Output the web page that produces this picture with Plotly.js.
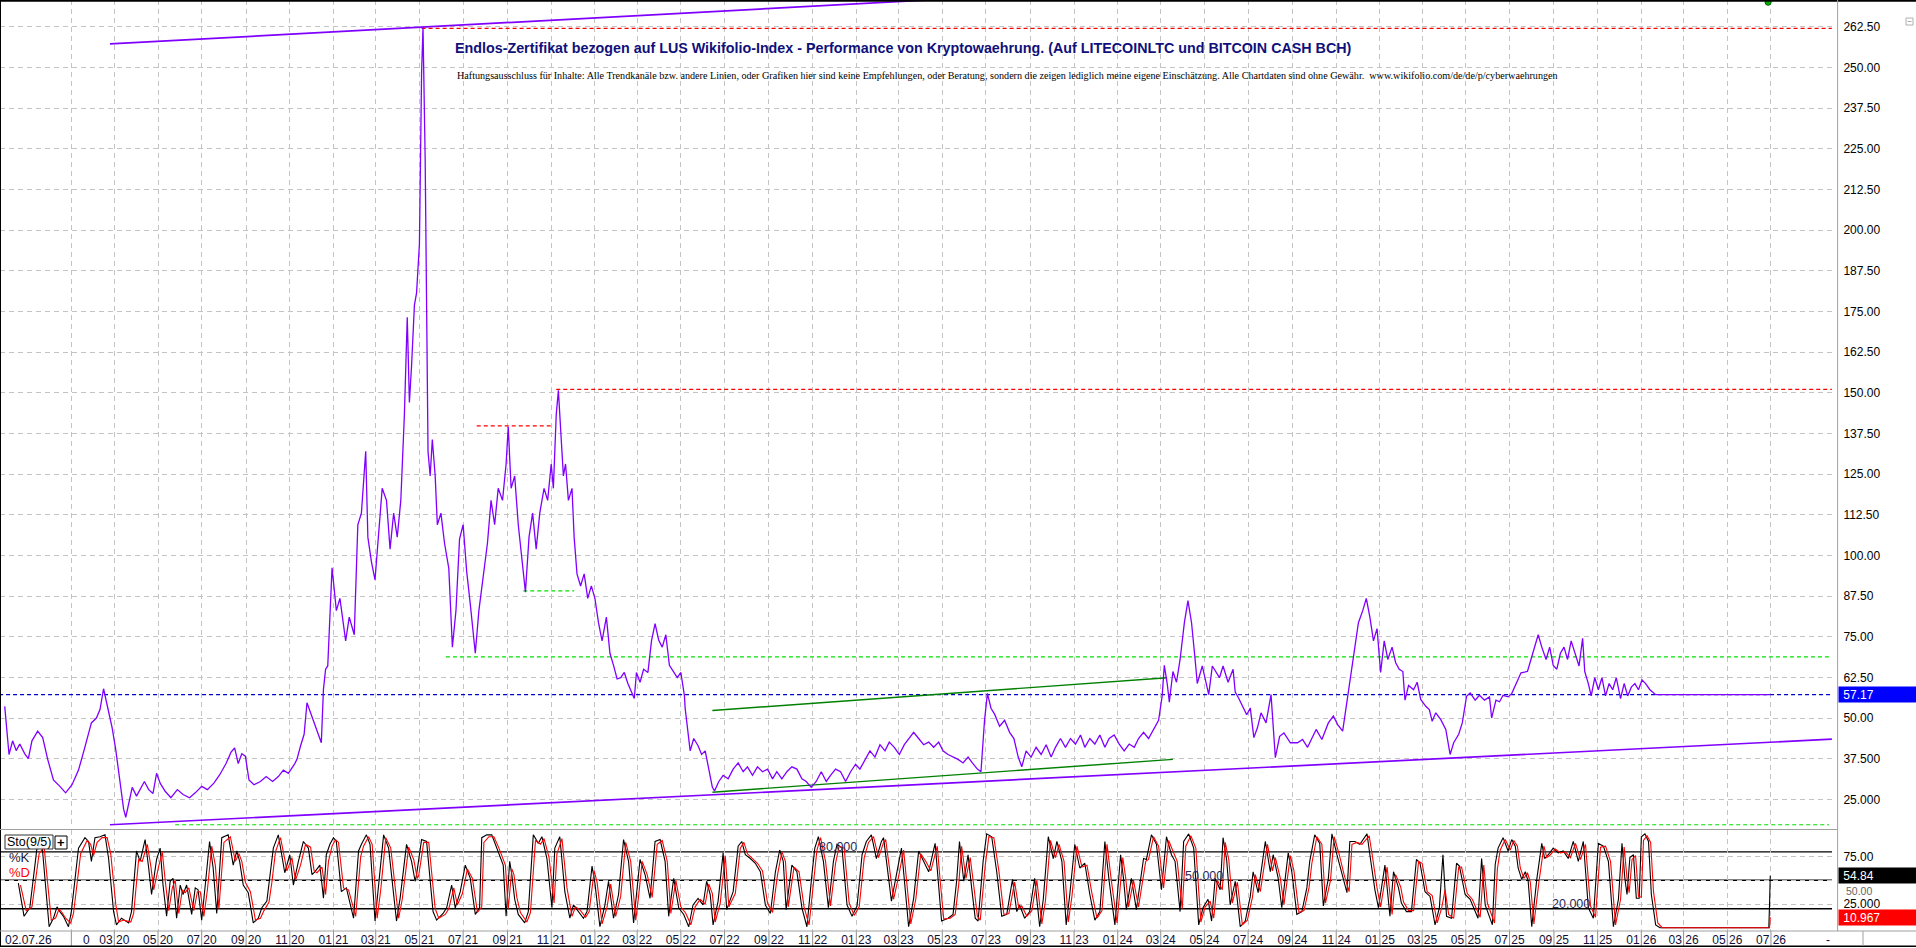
<!DOCTYPE html>
<html>
<head>
<meta charset="utf-8">
<script src="https://cdn.plot.ly/plotly-3.0.1.min.js"></script>
<style>html,body{margin:0;padding:0;background:#fff;}#chart{width:1916px;height:948px;}</style>
</head>
<body>
<div id="chart"></div>
<script>
// ---- price series (days since 2020-03-01, index value) ----
const priceDays = [
-153,-147,-142,-137,-132,-125,-120,-115,-107,-100,
-93,-85,-76,-68,-59,-50,-42,-32,-25,-20,
-15,-11,-8,-3,2,8,13,16,20,25,
31,42,48,54,59,64,71,79,88,96,
105,113,122,130,139,147,156,163,168,173,
178,183,188,195,204,212,221,229,236,243,
252,255,260,265,269,274,279,284,289,292,
295,298,
304,310,315,323,328,335,340,345,351,354,
359,364,369,374,380,385,390,395,400,405,
409,412,415,419,422,426,429,431,434,436,
438,441,444,448,451,456,461,467,472,477,
482,487,492,497,504,
509,516,521,526,531,536,542,547,550,554,
559,564,569,574,579,584,589,594,600,605,
610,613,617,620,623,627,630,634,639,642,
646,651,656,661,666,671,676,681,687,692,
697,702,707,712,717,722,726,729,734,739,
745,750,755,760,765,770,775,780,786,791,
796,797,801,804,809,815,820,825,830,835,
838,
844,850,857,864,871,878,884,891,898,905,
912,919,925,932,939,946,953,960,966,973,
980,987,994,1000,1007,1014,1021,1028,1035,1041,
1048,1055,1062,1069,1076,1082,1089,1096,1103,1110,
1116,1123,1130,1137,1144,1151,1157,1164,1171,1178,
1185,1192,1198,1205,1210,1215,1219,1224,1229,1236,
1243,1250,1256,1262,1267,1273,1280,1287,1294,1301,
1308,1314,1321,1328,1335,1342,1349,1355,1362,1369,
1376,1383,1389,1396,1403,1410,1417,1424,1430,1437,
1444,1451,1458,1463,1466,1470,1473,1478,1483,1488,
1494,1499,1504,1509,1512,1519,1524,1528,1533,1538,
1543,1548,1555,1562,1565,1570,1575,1581,1586,1591,
1596,1601,1608,1615,1621,1627,1633,1642,1652,1659,
1666,1678,1686,1695,1702,1708,1715,1722,1727,1732,
1737,1743,1748,1753,1758,1763,1768,1773,1778,1784,
1789,1794,1799,1802,1807,1814,1819,1824,1831,1836,
1840,1845,1852,1859,1862,1865,1870,1877,1882,1888,
1893,1900,1906,1913,1920,1923,1929,1934,1939,1946,
1951,1956,1964,1973,1978,1983,1988,1993,1999,2004,
2009,2014,2019,2024,2029,2034,2039,2045,2050,2053,
2058,2062,2067,2072,2077,2082,2087,2092,2097,2103,
2108,2113,2118,2123,2128,2133,2138,2144,2152,2312
];
const priceValues = [
53.6,38.8,43,40,42,39,37.5,43,46,44,
37.3,31,29,27,29.5,34,40.3,48.5,50,52.6,
59,55,51,47,40.3,31,22,19.5,24,28.7,
26,30.5,28,26.8,33,30,27.5,25.5,28,26.5,
25.5,27,29,28,30,32.5,36,39.5,40.8,36,
39,38.3,31,29.5,30.5,32,30.5,32,34,33,
36,37.3,41.4,45,54.7,51.6,48,45,42.4,58.8,
65,66,
96.2,83,86.8,73.7,81,75.6,109.4,113,132,105.6,
98,92.5,105.6,120.6,116.9,101.9,113,105.6,116.9,143.2,
173.2,147,158.2,176.9,180.7,195.7,248.2,262.3,222,176.9,
131.9,124.4,135.6,124.4,109.4,113,103.8,96,71.8,83,
105,109.4,95,85,69.9,
83,94.3,103.8,116.9,109.4,120.6,116.9,128.1,139.5,120.6,
124.4,109.4,98,88.7,105.6,113,101.9,113,120.6,116.9,
128.1,120.6,143.2,150.7,139.4,124.4,128.1,116.9,120.6,105.6,
94.3,90.6,94.3,86.8,90.6,86.8,79.3,73.7,81,69.9,
66.2,62,62.4,64,60.6,58,56,64,61,65,
64,73.7,79,74,71.8,75.6,66.2,64.5,62.4,64,
56.8,53,45.6,39.9,43.7,41.5,38.8,39.9,34.3,28.7,
27.6,
30.5,32.4,31.3,34.3,36.2,33.5,35,32.4,35,33.5,
34.3,31.3,33.5,31.3,33.5,35,34.3,31.3,30.5,28.7,
30.5,33.5,30.5,32.4,34.3,33.5,30.5,33.5,35.8,34.3,
37.3,39.9,38,41.8,39.9,42.6,41,38.8,41.8,43.7,
45.6,43.7,41.8,42.6,41,42.6,39.9,38.8,38,37.3,
36.2,38,36.2,34.3,33.5,49.3,57.6,53,51.2,47.5,
49.3,45.6,43.7,38,35,39.9,38,41,38.8,41.8,
38,41,43.7,41,43.7,42,44.8,41,43.7,42,
44.8,41,43.7,44.8,42,39.9,42,41,43.7,45.6,
43.7,46.3,49.3,56.8,66.2,60.6,54.9,64.3,61,68,
79.3,86.1,79.3,68,60.6,66,60.6,57.2,66,64,
62.4,66,61,65,58,56,53.6,51,53.1,44,
47,51.6,48.5,57.2,37.8,44.4,45.4,42.4,42.4,43.4,
41,46.5,43.4,48.5,50.6,48,46,56.7,62.9,72,
79.3,83,86.8,81,73.7,77.5,64,73.7,68,71.8,
67,65,64.3,55.5,60,58.7,61,55.7,53.6,52.6,
49,51.6,49.5,46.5,42.4,38.8,42.4,45,48.5,56.7,
57.7,55.5,57,55.5,56.5,50,55.5,55,57,56.5,
57.5,59.8,63.9,64.3,68,71.8,75.6,71.8,68,71.8,
66.2,65,69.9,71.8,68,73.7,69.9,66,74.5,64.3,
60.6,56.8,62.4,58.7,62.4,56.8,60.6,58.7,62.4,56,
60.6,56.8,59.5,60.6,58.7,61.7,60.6,58.7,57.17,57.17
];
const lastPrice = 57.17;

// ---- Stochastic (9/5): %K and %D ----
const stochKDays = [
-134,-126,-118,-108,-101,-91,-85,-80,-76,-71,
-64,-60,-50,-41,-36,-32,-27,-20,-13,-8,
-1,3,10,15,20,24,31,36,43,48,
52,59,64,68,73,78,82,87,92,96,
101,108,113,117,122,127,133,138,143,150,
159,166,171,175,180,187,194,201,206,213,
217,222,229,234,238,245,250,257,264,271,
276,280,287,292,296,301,306,310,317,324,
334,341,345,352,357,364,369,376,383,394,
399,408,415,420,422,429,436,445,450,459,
464,471,476,483,490,497,504,510,
513,520,527,534,543,547,552,555,559,564,
573,578,585,592,597,604,611,615,622,629,
636,641,648,655,660,667,671,678,685,690,
697,704,711,718,725,729,734,741,748,755,
762,769,774,781,788,795,802,808,815,822,
827,832,836,843,850,855,864,871,876,881,
888,895,902,909,916,923,929,934,938,946,
953,960,967,974,978,983,990,997,1004,1009,
1016,1023,1030,1037,1044,1050,1057,1064,1071,1074,
1081,1085,1092,1099,1109,1116,1123,1130,1137,1146,
1150,1155,1164,1171,1176,1180,
1186,1192,1197,1202,1206,1213,1218,1225,1232,1239,
1246,1254,1260,1264,1271,1278,1285,1292,1297,1304,
1311,1316,1323,1329,1334,1341,1348,1355,1362,1369,
1376,1383,1389,1397,1405,1409,1413,1420,1427,1437,
1441,1448,1455,1462,1469,1476,1481,1488,1493,1500,
1507,1514,1520,1527,1532,1537,1544,1548,1553,1558,
1565,1572,1579,1586,1590,1597,1607,1614,1618,1625,
1630,1639,1644,1651,1658,1665,1669,1676,1683,1688,
1695,1700,1707,1714,1721,1725,1732,1739,1749,1753,
1760,1765,1774,1781,1786,1793,1797,1804,1811,1818,
1823,1830,1837,1844,1850,
1855,1860,1867,1874,1878,1886,1893,1900,1904,1909,
1914,1924,1928,1932,1939,1946,1951,1956,1960,1965,
1970,1974,1979,1986,1993,1997,2002,2009,2016,2023,
2030,2037,2044,2051,2058,2065,2072,2079,2086,2093,
2100,2105,2109,2112,2116,2121,2125,2129,2132,2137,
2142,2146,2152,2158,2310,2311,2312
];
const stochK = [
47,12,21,84,88,1,10,22,17,12,
1,17,84,95,91,70,95,96,98,73,
17,3,10,7,5,17,81,70,93,63,
35,72,84,45,12,49,52,10,45,35,
45,14,42,40,8,45,91,63,15,95,
98,66,81,70,45,37,5,10,21,28,
52,84,98,73,58,77,45,70,91,84,
56,59,66,31,77,88,95,91,38,42,
10,81,88,98,88,7,42,98,84,7,
31,88,70,49,56,93,91,17,8,15,
21,45,21,38,66,52,14,21,
95,98,98,84,66,12,70,56,30,14,
5,17,98,89,96,73,21,84,96,38,
10,24,17,10,17,65,47,1,24,49,
10,35,93,70,5,35,72,56,31,91,
93,70,12,52,21,14,1,24,31,24,
49,35,3,28,79,19,38,86,91,77,
73,68,59,24,15,59,82,70,19,66,
59,21,1,56,84,96,70,21,70,88,
84,24,12,23,77,91,98,73,91,95,
52,28,56,84,1,31,81,70,59,89,
49,7,10,14,49,91,
49,77,42,10,7,70,99,96,59,12,
14,51,17,24,10,17,52,1,30,96,
73,91,70,3,35,88,63,68,35,8,
17,91,49,3,77,52,19,52,19,73,
72,98,88,40,96,77,70,17,91,99,
84,3,21,30,7,52,40,95,72,24,
49,1,7,33,59,37,91,59,77,52,
21,79,59,14,17,42,70,98,89,23,
52,99,77,56,37,91,91,88,99,77,
40,21,66,12,59,42,26,17,17,72,
68,38,33,3,21,
77,12,10,68,65,35,30,17,10,73,
24,3,67,84,95,81,93,86,63,51,
59,49,1,51,89,73,77,84,79,81,
73,91,70,91,21,10,89,86,70,1,
30,89,52,35,74,77,31,31,96,99,
91,35,3,0,0,25,54.84
];
const stochDDays = [
-131,-123,-115,-105,-98,-88,-82,-77,-73,-68,
-61,-57,-47,-38,-33,-29,-24,-17,-10,-5,
2,6,13,18,23,27,34,39,46,51,
55,62,67,71,76,81,85,90,95,99,
104,111,116,120,125,130,136,141,146,153,
162,169,174,178,183,190,197,204,209,216,
220,225,232,237,241,248,253,260,267,274,
279,283,290,295,299,304,309,313,320,327,
337,344,348,355,360,367,372,379,386,397,
402,411,418,423,425,432,439,448,453,462,
467,474,479,486,493,500,507,513,
516,523,530,537,546,550,555,558,562,567,
576,581,588,595,600,607,614,618,625,632,
639,644,651,658,663,670,674,681,688,693,
700,707,714,721,728,732,737,744,751,758,
765,772,777,784,791,798,805,811,818,825,
830,835,839,846,853,858,867,874,879,884,
891,898,905,912,919,926,932,937,941,949,
956,963,970,977,981,986,993,1000,1007,1012,
1019,1026,1033,1040,1047,1053,1060,1067,1074,1077,
1084,1088,1095,1102,1112,1119,1126,1133,1140,1149,
1153,1158,1167,1174,1179,1183,
1189,1195,1200,1205,1209,1216,1221,1228,1235,1242,
1249,1257,1263,1267,1274,1281,1288,1295,1300,1307,
1314,1319,1326,1332,1337,1344,1351,1358,1365,1372,
1379,1386,1392,1400,1408,1412,1416,1423,1430,1440,
1444,1451,1458,1465,1472,1479,1484,1491,1496,1503,
1510,1517,1523,1530,1535,1540,1547,1551,1556,1561,
1568,1575,1582,1589,1593,1600,1610,1617,1621,1628,
1633,1642,1647,1654,1661,1668,1672,1679,1686,1691,
1698,1703,1710,1717,1724,1728,1735,1742,1752,1756,
1763,1768,1777,1784,1789,1796,1800,1807,1814,1821,
1826,1833,1840,1847,1853,
1858,1863,1870,1877,1881,1889,1896,1903,1907,1912,
1917,1927,1931,1935,1942,1949,1954,1959,1963,1968,
1973,1977,1982,1989,1996,2000,2005,2012,2019,2026,
2033,2040,2047,2054,2061,2068,2075,2082,2089,2096,
2103,2108,2112,2115,2119,2124,2128,2132,2135,2140,
2145,2149,2155,2161,2311,2312
];
const stochD = [
45,18,22,78,85,8,10,20,16,10,
5,15,78,92,88,76,90,95,95,78,
25,6,8,7,6,15,72,70,88,65,
40,65,80,50,18,42,50,15,40,37,
42,18,38,38,12,40,86,66,20,90,
96,70,78,70,48,38,8,10,18,27,
48,80,95,76,60,74,50,66,88,85,
60,58,64,35,70,86,93,90,42,40,
12,75,86,96,88,10,40,95,84,10,
30,85,72,52,55,90,90,20,10,14,
20,42,24,36,62,52,16,22,
90,96,96,84,66,20,62,56,32,16,
6,16,92,88,94,74,26,78,94,42,
12,22,18,11,17,60,48,4,22,46,
12,33,90,70,8,33,70,56,32,88,
92,70,15,50,22,15,3,22,30,25,
46,36,6,26,76,22,36,84,90,78,
73,68,60,26,16,56,80,70,22,64,
59,22,3,54,82,95,70,23,68,86,
84,26,13,22,74,90,96,74,90,93,
54,30,54,82,4,30,78,70,60,86,
50,9,10,14,46,86,
52,74,44,12,8,66,96,95,60,14,
15,48,20,23,12,18,50,4,28,92,
74,88,70,6,33,86,64,66,36,10,
18,88,50,5,74,53,22,50,22,70,
72,96,86,42,92,78,70,20,86,97,
84,6,22,28,10,50,40,90,72,26,
48,3,8,32,56,38,88,60,74,52,
24,76,60,16,18,42,68,96,88,26,
50,96,78,56,38,88,90,88,97,78,
42,22,64,14,56,43,27,18,18,70,
68,38,34,5,20,
40,14,10,64,64,36,30,18,11,66,
26,5,62,82,93,82,92,86,63,52,
58,48,4,48,86,74,77,83,79,80,
74,89,72,88,23,11,85,86,70,3,
30,85,52,37,72,76,33,32,92,97,
90,38,5,0,0,10.967
];
const lastK = 54.84, lastD = 10.967;

// ---- trend lines and levels ----
const upperTrendDays = [-6, 1500];
const upperTrendValues = [257.2, 275.0];
const lowerTrendDays = [-6, 2398];
const lowerTrendValues = [17.2, 43.5];
const channelTopDays = [835, 1470];
const channelTopValues = [52.3, 62.4];
const channelBottomDays = [835, 1478];
const channelBottomValues = [27.2, 37.3];
const redLevelValues = [262.0, 151.0, 139.8];
const redLevelStart = [429, 617, 506];
const redLevelEnd = [2398, 2398, 612];
const greenLevelValues = [89.1, 68.8, 17.2];
const greenLevelStart = [571, 463, 85];
const greenLevelEnd = [642, 2394, 2394];
const signalDays = [2309];
const signalValues = [270];
const stochLevels = [20, 50, 80];
const stochLevelLabels = ['20.000', '50.000', '80.000'];
const stochLevelLabelDays = [2004, 1492, 981];

// ---- axis ticks ----
const tickDates = ['2020-01-01','2020-03-01','2020-05-01','2020-07-01','2020-09-01','2020-11-01',
'2021-01-01','2021-03-01','2021-05-01','2021-07-01','2021-09-01','2021-11-01',
'2022-01-01','2022-03-01','2022-05-01','2022-07-01','2022-09-01','2022-11-01',
'2023-01-01','2023-03-01','2023-05-01','2023-07-01','2023-09-01','2023-11-01',
'2024-01-01','2024-03-01','2024-05-01','2024-07-01','2024-09-01','2024-11-01',
'2025-01-01','2025-03-01','2025-05-01','2025-07-01','2025-09-01','2025-11-01',
'2026-01-01','2026-03-01','2026-05-01','2026-07-01'];
const tickLabels = ['','03 20','05 20','07 20','09 20','11 20',
'01 21','03 21','05 21','07 21','09 21','11 21',
'01 22','03 22','05 22','07 22','09 22','11 22',
'01 23','03 23','05 23','07 23','09 23','11 23',
'01 24','03 24','05 24','07 24','09 24','11 24',
'01 25','03 25','05 25','07 25','09 25','11 25',
'01 26','03 26','05 26','07 26'];
const priceTicks = [25,37.5,50,62.5,75,87.5,100,112.5,125,137.5,150,162.5,175,187.5,200,212.5,225,237.5,250,262.5];
const priceTickLabels = ['25.000','37.500','50.00','62.50','75.00','87.50','100.00','112.50','125.00','137.50','150.00','162.50','175.00','187.50','200.00','212.50','225.00','237.50','250.00','262.50'];
const stochTicks = [25, 50, 75];
const stochTickLabels = ['25.000', '', '75.00'];
const stochMidLabel = '50.00';

// ---- build ----
function dayOf(s){const p=s.split('-').map(Number);return (Date.UTC(p[0],p[1]-1,p[2])-Date.UTC(2020,2,1))/864e5;}
const tickDays = tickDates.map(dayOf);

const FONT = 'Liberation Sans, Arial, sans-serif';
const PURPLE = '#8000ff';
const traces = [];
traces.push({x:upperTrendDays,y:upperTrendValues,mode:'lines',line:{color:PURPLE,width:1.7},hoverinfo:'skip',xaxis:'x',yaxis:'y'});
traces.push({x:lowerTrendDays,y:lowerTrendValues,mode:'lines',line:{color:PURPLE,width:1.7},hoverinfo:'skip',xaxis:'x',yaxis:'y'});
traces.push({x:[-200,2500],y:[lastPrice,lastPrice],mode:'lines',line:{color:'#0000cc',width:1.3,dash:'4px,3px'},hoverinfo:'skip',xaxis:'x',yaxis:'y'});
redLevelValues.forEach((v,i)=>traces.push({x:[redLevelStart[i],redLevelEnd[i]],y:[v,v],mode:'lines',line:{color:'#ff0000',width:1.2,dash:'4px,3px'},hoverinfo:'skip',xaxis:'x',yaxis:'y'}));
greenLevelValues.forEach((v,i)=>traces.push({x:[greenLevelStart[i],greenLevelEnd[i]],y:[v,v],mode:'lines',line:{color:'#00e000',width:1.2,dash:'4px,3px'},hoverinfo:'skip',xaxis:'x',yaxis:'y'}));
traces.push({x:channelTopDays,y:channelTopValues,mode:'lines',line:{color:'#008000',width:1.4},hoverinfo:'skip',xaxis:'x',yaxis:'y'});
traces.push({x:channelBottomDays,y:channelBottomValues,mode:'lines',line:{color:'#008000',width:1.4},hoverinfo:'skip',xaxis:'x',yaxis:'y'});
traces.push({x:priceDays,y:priceValues,mode:'lines',line:{color:PURPLE,width:1.3},xaxis:'x',yaxis:'y'});
traces.push({x:signalDays,y:signalValues,mode:'markers',marker:{color:'#00b000',size:6,line:{color:'#006000',width:1}},cliponaxis:false,xaxis:'x',yaxis:'y'});
traces.push({x:stochKDays,y:stochK,mode:'lines',line:{color:'#000000',width:1.1},xaxis:'x',yaxis:'y2'});
traces.push({x:stochDDays,y:stochD,mode:'lines',line:{color:'#ff0000',width:1.1},xaxis:'x',yaxis:'y2'});

const PW = 1832, PH = 931;
const px = v => v / PW;
const py = v => (PH - v) / PH;

const shapes = [];
stochLevels.forEach(v=>shapes.push({type:'line',xref:'paper',yref:'y2',x0:0,x1:1,y0:v,y1:v,line:{color:'#000',width:1.4},layer:'below'}));
tickDays.forEach(d=>shapes.push({type:'line',xref:'x',yref:'paper',x0:d,x1:d,y0:py(946),y1:py(931),line:{color:'#909090',width:1}}));
shapes.push({type:'line',xref:'paper',yref:'paper',x0:0,x1:px(1916),y0:py(0.8),y1:py(0.8),line:{color:'#000',width:2}});
shapes.push({type:'line',xref:'paper',yref:'paper',x0:px(0.5),x1:px(0.5),y0:py(946),y1:py(0),line:{color:'#000',width:1}});
shapes.push({type:'line',xref:'paper',yref:'paper',x0:0,x1:px(1837.6),y0:py(829.5),y1:py(829.5),line:{color:'#a0a0a0',width:1}});
shapes.push({type:'line',xref:'paper',yref:'paper',x0:px(1837.6),x1:px(1837.6),y0:py(931),y1:py(0),line:{color:'#a0a0a0',width:1}});
shapes.push({type:'line',xref:'paper',yref:'paper',x0:0,x1:px(1916),y0:py(931),y1:py(931),line:{color:'#a0a0a0',width:1}});
shapes.push({type:'line',xref:'paper',yref:'paper',x0:0,x1:px(1916),y0:py(946.3),y1:py(946.3),line:{color:'#000',width:1.5}});
shapes.push({type:'line',xref:'paper',yref:'paper',x0:px(1863),x1:px(1863),y0:py(946),y1:py(931),line:{color:'#a0a0a0',width:1}});
shapes.push({type:'rect',xref:'paper',yref:'paper',x0:px(5),x1:px(53),y0:py(849),y1:py(835),line:{color:'#333',width:1},fillcolor:'rgba(255,255,255,0.9)'});
shapes.push({type:'rect',xref:'paper',yref:'paper',x0:px(55),x1:px(67),y0:py(849),y1:py(836),line:{color:'#000',width:1},fillcolor:'#fff'});
shapes.push({type:'rect',xref:'paper',yref:'paper',x0:px(1906),x1:px(1913),y0:py(25),y1:py(18),line:{color:'#b0b0b0',width:1},fillcolor:'#fff'});
shapes.push({type:'line',xref:'paper',yref:'paper',x0:px(1907.5),x1:px(1911.5),y0:py(21.5),y1:py(21.5),line:{color:'#b0b0b0',width:1}});

const annotations = [];
annotations.push({xref:'paper',yref:'paper',x:px(455),y:py(76),xanchor:'left',yanchor:'middle',showarrow:false,
  text:'Haftungsausschluss für Inhalte: Alle Trendkanäle bzw. andere Linien, oder Grafiken hier sind keine Empfehlungen, oder Beratung, sondern die zeigen lediglich meine eigene Einschätzung. Alle Chartdaten sind ohne Gewähr.  www.wikifolio.com/de/de/p/cyberwaehrungen',
  font:{family:'Liberation Serif, Times New Roman, serif',size:10.15,color:'#000'}});
// label under the %K box, slightly lower so it stays readable
annotations.push({xref:'paper',yref:'paper',x:px(1844),y:py(891),xanchor:'left',yanchor:'middle',showarrow:false,text:stochMidLabel,font:{family:FONT,size:10.5,color:'#666'}});
function valueBox(text, yref, y, bg, fg){
  annotations.push({xref:'paper',yref:yref,x:px(1838),y:y,xanchor:'left',yanchor:'middle',showarrow:false,
    text:'\u00a0'+text,align:'left',width:76,height:13,bgcolor:bg,borderpad:1,font:{family:FONT,size:12,color:fg}});
}
valueBox(String(lastPrice),'y',lastPrice,'#0000ff','#ffffff');
valueBox(String(lastK),'y2',lastK,'#000000','#ffffff');
valueBox(String(lastD),'y2',lastD,'#ff0000','#ffffff');
annotations.push({xref:'paper',yref:'paper',x:px(29),y:py(842),xanchor:'center',yanchor:'middle',showarrow:false,text:'Sto(9/5)',font:{family:FONT,size:12.5,color:'#000'}});
annotations.push({xref:'paper',yref:'paper',x:px(61),y:py(842.5),xanchor:'center',yanchor:'middle',showarrow:false,text:'<b>+</b>',font:{family:FONT,size:13,color:'#000'}});
annotations.push({xref:'paper',yref:'paper',x:px(7),y:py(857),xanchor:'left',yanchor:'middle',showarrow:false,text:'%K',font:{family:FONT,size:13,color:'#1a1a3a'}});
annotations.push({xref:'paper',yref:'paper',x:px(7),y:py(872),xanchor:'left',yanchor:'middle',showarrow:false,text:'%D',font:{family:FONT,size:13,color:'#ff0000'}});
stochLevels.forEach((v,i)=>annotations.push({xref:'x',yref:'y2',x:stochLevelLabelDays[i],y:v+5,xanchor:'left',yanchor:'middle',showarrow:false,text:stochLevelLabels[i],font:{family:FONT,size:12.5,color:'#2a2a5c'}}));
annotations.push({xref:'paper',yref:'paper',x:px(28),y:py(940),xanchor:'center',yanchor:'middle',showarrow:false,text:'02.07.26',font:{family:FONT,size:12,color:'#101038'}});
annotations.push({xref:'paper',yref:'paper',x:px(86),y:py(940),xanchor:'center',yanchor:'middle',showarrow:false,text:'0',font:{family:FONT,size:12,color:'#101038'}});
annotations.push({xref:'paper',yref:'paper',x:px(1828),y:py(940),xanchor:'center',yanchor:'middle',showarrow:false,text:'-',font:{family:FONT,size:12,color:'#101038'}});

const gridDash = '5px,4px';
const layout = {
  width:1916, height:948,
  margin:{l:0,r:84,t:0,b:17,pad:0},
  paper_bgcolor:'#ffffff', plot_bgcolor:'#ffffff',
  showlegend:false,
  title:{text:'Endlos-Zertifikat bezogen auf LUS Wikifolio-Index - Performance von Kryptowaehrung. (Auf LITECOINLTC und BITCOIN CASH BCH)',
    xref:'container',yref:'container',x:455/1916,xanchor:'left',y:1-47.7/948,yanchor:'middle',
    font:{family:FONT,size:14.3,color:'#10107a',weight:700}},
  xaxis:{range:[-159.6,2398.2],tickvals:tickDays,ticktext:tickLabels,ticks:'',showgrid:true,gridcolor:'#c4c4c4',gridwidth:1,griddash:gridDash,
    zeroline:false,showline:false,anchor:'y2',tickfont:{family:FONT,size:12,color:'#101038'},fixedrange:true},
  yaxis:{domain:[py(828),1],range:[16.2,270.7],side:'right',tickvals:priceTicks,ticktext:priceTickLabels,showgrid:true,gridcolor:'#c4c4c4',
    gridwidth:1,griddash:gridDash,zeroline:false,ticks:'outside',ticklen:8,tickcolor:'rgba(0,0,0,0)',tickfont:{family:FONT,size:12,color:'#000'},anchor:'x'},
  yaxis2:{domain:[0,py(830)],range:[-3.5,103.1],side:'right',tickvals:stochTicks,ticktext:stochTickLabels,showgrid:true,gridcolor:'#c4c4c4',
    gridwidth:1,griddash:gridDash,zeroline:false,ticks:'outside',ticklen:8,tickcolor:'rgba(0,0,0,0)',tickfont:{family:FONT,size:12,color:'#000'},anchor:'x'},
  shapes:shapes,
  annotations:annotations
};
Plotly.newPlot('chart', traces, layout, {displayModeBar:false, staticPlot:true});
</script>
</body>
</html>
